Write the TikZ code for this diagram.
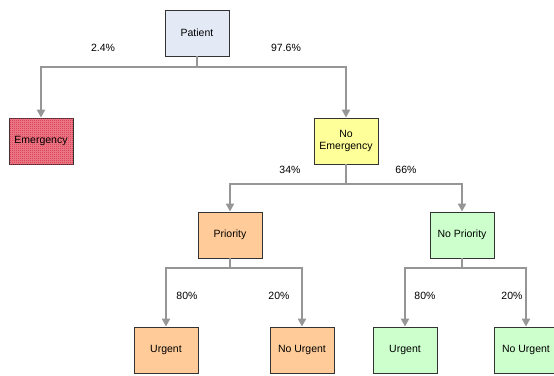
\documentclass[tikz,border=0pt]{standalone}
\usepackage{fontspec}
\setmainfont{Liberation Sans}
\usetikzlibrary{arrows.meta, patterns}

\definecolor{patblue}{RGB}{227,234,246}
\definecolor{emgpink}{RGB}{236,128,142}
\definecolor{emgred}{RGB}{214,40,62}
\definecolor{noemg}{RGB}{255,255,153}
\definecolor{prio}{RGB}{255,204,153}
\definecolor{noprio}{RGB}{204,255,204}
\definecolor{linkgray}{RGB}{150,150,150}

\pgfdeclarepatternformonly{finechecker}{\pgfqpoint{0pt}{0pt}}{\pgfqpoint{2pt}{2pt}}{\pgfqpoint{2pt}{2pt}}%
{
  \pgfpathrectangle{\pgfqpoint{0pt}{0pt}}{\pgfqpoint{1pt}{1pt}}
  \pgfpathrectangle{\pgfqpoint{1pt}{1pt}}{\pgfqpoint{1pt}{1pt}}
  \pgfusepath{fill}
}

\begin{document}
\begin{tikzpicture}[x=1pt,y=1pt]
\tikzstyle{every node}+=[inner sep=0pt, font=\fontsize{10.5}{12.5}\selectfont]
\tikzstyle{box}=[draw=black!80, line width=0.8pt, minimum width=64pt, minimum height=46pt, align=center]
\tikzstyle{link}=[draw=linkgray, line width=2pt, -{Triangle[length=8pt,width=8pt]}]
\useasboundingbox (0,0) rectangle (554,-375);
\node [box, fill=emgpink, postaction={pattern=finechecker, pattern color=emgred}] (emg) at (41,-141) {};
\node [box, fill=patblue] (pat) at (197,-33) {Patient};
\node (emgtext) at (emg) {Emergency};
\node [box, fill=noemg] (noemg) at (346,-141) {No\\Emergency};
\node [box, fill=prio] (prio) at (230,-235) {Priority};
\node [box, fill=noprio] (noprio) at (462,-235) {No Priority};
\node [box, fill=prio] (urg1) at (166,-350) {Urgent};
\node [box, fill=prio] (nourg1) at (302,-350) {No Urgent};
\node [box, fill=noprio] (urg2) at (405,-350) {Urgent};
\node [box, fill=noprio] (nourg2) at (526,-350) {No Urgent};
\draw [link] (pat.south) -- ++(0,-11) -| (emg.north);
\draw [link] (pat.south) -- ++(0,-11) -| (noemg.north);
\draw [link] (noemg.south) -- ++(0,-20) -| (prio.north);
\draw [link] (noemg.south) -- ++(0,-20) -| (noprio.north);
\draw [link] (prio.south) -- ++(0,-10) -| (urg1.north);
\draw [link] (prio.south) -- ++(0,-10) -| (nourg1.north);
\draw [link] (noprio.south) -- ++(0,-10) -| (urg2.north);
\draw [link] (noprio.south) -- ++(0,-10) -| (nourg2.north);
\node (p1) at (103,-48) {2.4\%};
\node (p2) at (286,-48) {97.6\%};
\node (p3) at (290,-170) {34\%};
\node (p4) at (406,-170) {66\%};
\node (p5) at (187,-296) {80\%};
\node (p6) at (279,-296) {20\%};
\node (p7) at (425,-296) {80\%};
\node (p8) at (512,-296) {20\%};
\end{tikzpicture}
\end{document}
